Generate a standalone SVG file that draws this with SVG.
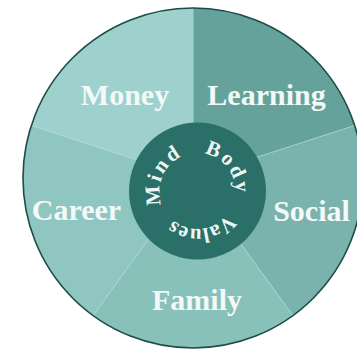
<svg xmlns="http://www.w3.org/2000/svg" width="357" height="350" viewBox="0 0 357 350">
<style>
.w{stroke:#b4dcd8;stroke-width:0.8;stroke-opacity:0.6}
.lbl{font-family:"Liberation Serif","Times New Roman",serif;font-weight:bold;font-size:30px;fill:#f2f9f7;text-anchor:middle}
.in{font-family:"Liberation Serif","Times New Roman",serif;font-weight:bold;font-size:21px;fill:#eef7f5;text-anchor:middle;letter-spacing:2.5px}
</style>
<defs>
<path id="ring" d="M197.5,153 A38,38 0 1 1 197.5,229 A38,38 0 1 1 197.5,153"/>
</defs>
<rect width="357" height="350" fill="#ffffff"/>
<g id="learning">
<path class="w" d="M193,178 L193,8 A170,170 0 0 1 354.7,125.5 Z" fill="#65a29b"/>
<text class="lbl" x="266.5" y="105">Learning</text>
</g>
<g id="social">
<path class="w" d="M193,178 L354.7,125.5 A170,170 0 0 1 292.9,315.5 Z" fill="#7ab3ad"/>
<text class="lbl" x="311.5" y="221">Social</text>
</g>
<g id="family">
<path class="w" d="M193,178 L292.9,315.5 A170,170 0 0 1 93.1,315.5 Z" fill="#88c0ba"/>
<text class="lbl" x="197" y="310">Family</text>
</g>
<g id="career">
<path class="w" d="M193,178 L93.1,315.5 A170,170 0 0 1 31.3,125.5 Z" fill="#90c6c1"/>
<text class="lbl" x="76.5" y="220">Career</text>
</g>
<g id="money">
<path class="w" d="M193,178 L31.3,125.5 A170,170 0 0 1 193,8 Z" fill="#9ed1cd"/>
<text class="lbl" x="125" y="105">Money</text>
</g>
<circle cx="193" cy="178" r="170" fill="none" stroke="#1d4c47" stroke-width="1.6"/>
<g id="core">
<circle cx="197.5" cy="191" r="68.5" fill="#2a6f68"/>
<text class="in"><textPath href="#ring" startOffset="81.5%">Mind</textPath></text>
<text class="in"><textPath href="#ring" startOffset="14.7%">Body</textPath></text>
<text class="in" style="letter-spacing:0.5px"><textPath href="#ring" startOffset="48.2%">Values</textPath></text>
</g>
</svg>
